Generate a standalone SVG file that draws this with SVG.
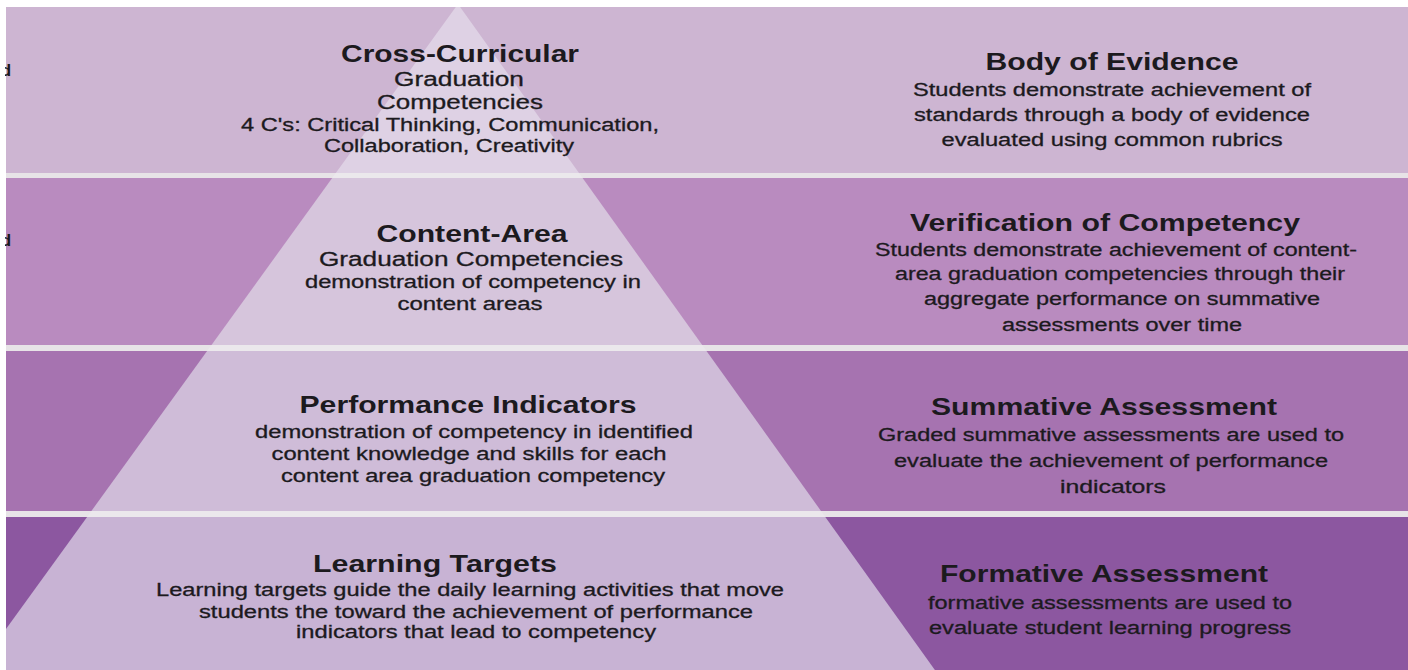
<svg xmlns="http://www.w3.org/2000/svg" width="1408" height="670" viewBox="0 0 1408 670">
<style>
text{font-family:"Liberation Sans",Arial,Helvetica,sans-serif;fill:#1c1a1e;text-anchor:middle}
.t{font-size:24px;font-weight:bold}
.b{font-size:18px;stroke:#1c1a1e;stroke-width:0.3px}
.b20{font-size:20px;stroke:#1c1a1e;stroke-width:0.3px}
.sep{fill:#e7e3e7}
</style>
<rect x="0" y="0" width="1408" height="670" fill="#ffffff"/>
<g id="bands">
<rect x="6" y="7" width="1402" height="166" fill="#cdb5d2"/>
<rect x="6" y="178" width="1402" height="167" fill="#b98bbf"/>
<rect x="6" y="351" width="1402" height="160" fill="#a673b0"/>
<rect x="6" y="517" width="1402" height="153" fill="#8c57a0"/>
<rect class="sep" x="6" y="173" width="1402" height="5"/>
<rect class="sep" x="6" y="345" width="1402" height="6"/>
<rect class="sep" x="6" y="511" width="1402" height="6"/>
</g>
<g id="pyramid">
<polygon points="455.8,7 460.1,7 579,173 335.8,173" fill="#ded1e4"/>
<polygon points="332.2,178 582.6,178 702.2,345 211.5,345" fill="#d6c5dc"/>
<polygon points="207.1,351 706.5,351 821,511 91.4,511" fill="#cfbcd8"/>
<polygon points="87.1,517 825.3,517 934.9,670 6,670 6,629" fill="#c8b3d4"/>
<polygon points="335.8,173 579,173 582.6,178 332.2,178" fill="#ebe8ec"/>
<polygon points="211.5,345 702.2,345 706.5,351 207.1,351" fill="#ebe8ec"/>
<polygon points="91.4,511 821,511 825.3,517 87.1,517" fill="#ebe8ec"/>
</g>
<g id="edge-fragments">
<text x="6" y="76" style="font-size:17px;font-weight:bold">d</text>
<text x="6" y="246" style="font-size:17px;font-weight:bold">d</text>
<rect x="0" y="0" width="5" height="670" fill="#ffffff"/>
</g>
<g id="connectors"/>
<g id="cross-curricular">
<text class="t" x="460" y="62" textLength="238" lengthAdjust="spacingAndGlyphs">Cross-Curricular</text>
<text class="b20" x="459" y="86" textLength="130" lengthAdjust="spacingAndGlyphs">Graduation</text>
<text class="b20" x="460" y="109" textLength="166" lengthAdjust="spacingAndGlyphs">Competencies</text>
<text class="b" x="450" y="131" textLength="418" lengthAdjust="spacingAndGlyphs">4 C's: Critical Thinking, Communication,</text>
<text class="b" x="449" y="152" textLength="250" lengthAdjust="spacingAndGlyphs">Collaboration, Creativity</text>
</g>
<g id="body-of-evidence">
<text class="t" x="1112" y="70" textLength="253" lengthAdjust="spacingAndGlyphs">Body of Evidence</text>
<text class="b" x="1112" y="96" textLength="398" lengthAdjust="spacingAndGlyphs">Students demonstrate achievement of</text>
<text class="b" x="1112" y="121" textLength="396" lengthAdjust="spacingAndGlyphs">standards through a body of evidence</text>
<text class="b" x="1112" y="146" textLength="341" lengthAdjust="spacingAndGlyphs">evaluated using common rubrics</text>
</g>
<g id="content-area">
<text class="t" x="472" y="242" textLength="191" lengthAdjust="spacingAndGlyphs">Content-Area</text>
<text class="b20" x="471" y="266" textLength="304" lengthAdjust="spacingAndGlyphs">Graduation Competencies</text>
<text class="b" x="473" y="288" textLength="336" lengthAdjust="spacingAndGlyphs">demonstration of competency in</text>
<text class="b" x="470" y="310" textLength="145" lengthAdjust="spacingAndGlyphs">content areas</text>
</g>
<g id="verification-of-competency">
<text class="t" x="1105" y="231" textLength="390" lengthAdjust="spacingAndGlyphs">Verification of Competency</text>
<text class="b" x="1116" y="256" textLength="482" lengthAdjust="spacingAndGlyphs">Students demonstrate achievement of content-</text>
<text class="b" x="1120" y="280" textLength="450" lengthAdjust="spacingAndGlyphs">area graduation competencies through their</text>
<text class="b" x="1122" y="305" textLength="396" lengthAdjust="spacingAndGlyphs">aggregate performance on summative</text>
<text class="b" x="1122" y="331" textLength="240" lengthAdjust="spacingAndGlyphs">assessments over time</text>
</g>
<g id="performance-indicators">
<text class="t" x="468" y="413" textLength="337" lengthAdjust="spacingAndGlyphs">Performance Indicators</text>
<text class="b" x="474" y="438" textLength="438" lengthAdjust="spacingAndGlyphs">demonstration of competency in identified</text>
<text class="b" x="469" y="460" textLength="395" lengthAdjust="spacingAndGlyphs">content knowledge and skills for each</text>
<text class="b" x="473" y="482" textLength="384" lengthAdjust="spacingAndGlyphs">content area graduation competency</text>
</g>
<g id="summative-assessment">
<text class="t" x="1104" y="415" textLength="346" lengthAdjust="spacingAndGlyphs">Summative Assessment</text>
<text class="b" x="1111" y="441" textLength="466" lengthAdjust="spacingAndGlyphs">Graded summative assessments are used to</text>
<text class="b" x="1111" y="467" textLength="434" lengthAdjust="spacingAndGlyphs">evaluate the achievement of performance</text>
<text class="b" x="1113" y="493" textLength="106" lengthAdjust="spacingAndGlyphs">indicators</text>
</g>
<g id="learning-targets">
<text class="t" x="435" y="572" textLength="244" lengthAdjust="spacingAndGlyphs">Learning Targets</text>
<text class="b" x="470" y="596" textLength="628" lengthAdjust="spacingAndGlyphs">Learning targets guide the daily learning activities that move</text>
<text class="b" x="476" y="618" textLength="554" lengthAdjust="spacingAndGlyphs">students the toward the achievement of performance</text>
<text class="b" x="476" y="638" textLength="360" lengthAdjust="spacingAndGlyphs">indicators that lead to competency</text>
</g>
<g id="formative-assessment">
<text class="t" x="1104" y="582" textLength="328" lengthAdjust="spacingAndGlyphs">Formative Assessment</text>
<text class="b" x="1110" y="609" textLength="364" lengthAdjust="spacingAndGlyphs">formative assessments are used to</text>
<text class="b" x="1110" y="634" textLength="362" lengthAdjust="spacingAndGlyphs">evaluate student learning progress</text>
</g>
</svg>
